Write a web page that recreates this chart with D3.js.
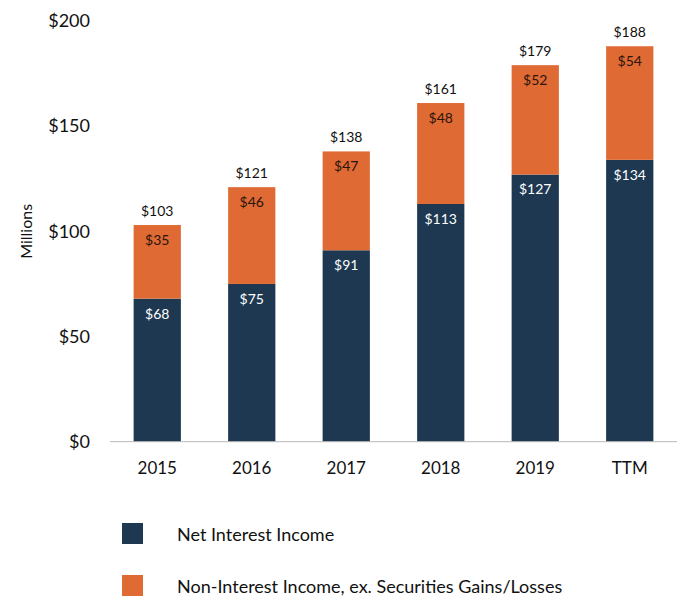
<!DOCTYPE html>
<html>
<head>
<meta charset="utf-8">
<script src="https://cdn.jsdelivr.net/npm/d3@7"></script>
<style>
  html, body { margin: 0; padding: 0; background: #fff; }
  svg { display: block; font-family: Lato, "Open Sans", sans-serif; }
</style>
</head>
<body>
<svg id="chart" width="681" height="601"></svg>
<script>
// Revenue by year, stacked: net interest income + non-interest income
const categories = ["2015", "2016", "2017", "2018", "2019", "TTM"];
const netInterest = [68, 75, 91, 113, 127, 134];
const nonInterest = [35, 46, 47, 48, 52, 54];
const totals = [103, 121, 138, 161, 179, 188];
const yTicks = [0, 50, 100, 150, 200];
const seriesNames = ["Net Interest Income", "Non-Interest Income, ex. Securities Gains/Losses"];

const navy = "#1e3852";
const orange = "#e06a33";

const svg = d3.select("#chart");

const x = d3.scaleBand()
  .domain(categories)
  .range([110, 677])
  .paddingInner(0.5)
  .paddingOuter(0.25);

const y = d3.scaleLinear().domain([0, 200]).range([441.7, 21]);

const rows = categories.map((c, i) => ({
  cat: c, net: netInterest[i], non: nonInterest[i], total: totals[i]
}));

// y-axis tick labels (no axis line)
svg.append("g")
  .selectAll("text")
  .data(yTicks)
  .join("text")
  .attr("x", 90)
  .attr("y", d => y(d))
  .attr("dy", "0.35em")
  .attr("text-anchor", "end")
  .attr("font-size", 18)
  .attr("fill", "#111")
  .text(d => "$" + d);

// axis title
svg.append("text")
  .attr("transform", "translate(26," + y(100) + ") rotate(-90)")
  .attr("dy", "0.35em")
  .attr("text-anchor", "middle")
  .attr("font-size", 16)
  .attr("fill", "#111")
  .text("Millions");

// bars
const bars = svg.append("g");
bars.selectAll("rect.net")
  .data(rows)
  .join("rect")
  .attr("class", "net")
  .attr("x", d => x(d.cat))
  .attr("width", x.bandwidth())
  .attr("y", d => y(d.net))
  .attr("height", d => y(0) - y(d.net))
  .attr("fill", navy);

bars.selectAll("rect.non")
  .data(rows)
  .join("rect")
  .attr("class", "non")
  .attr("x", d => x(d.cat))
  .attr("width", x.bandwidth())
  .attr("y", d => y(d.net + d.non))
  .attr("height", d => y(d.net) - y(d.net + d.non))
  .attr("fill", orange);

// baseline
svg.append("line")
  .attr("x1", 110).attr("x2", 677)
  .attr("y1", y(0)).attr("y2", y(0))
  .attr("stroke", "#b8b8b8")
  .attr("stroke-width", 1);

// x-axis labels
const xAxis = svg.append("g")
  .attr("transform", "translate(0," + y(0) + ")")
  .call(d3.axisBottom(x).tickSize(0).tickPadding(20));
xAxis.select(".domain").remove();
xAxis.selectAll("text")
  .attr("font-family", "Lato, 'Open Sans', sans-serif")
  .attr("font-size", 17)
  .attr("fill", "#111");

// value labels
const labels = svg.append("g")
  .attr("text-anchor", "middle")
  .attr("font-size", 14);

labels.selectAll("text.net")
  .data(rows)
  .join("text")
  .attr("class", "net")
  .attr("x", d => x(d.cat) + x.bandwidth() / 2)
  .attr("y", d => y(d.net) + 15)
  .attr("dy", "0.35em")
  .attr("fill", "#fff")
  .text(d => "$" + d.net);

labels.selectAll("text.non")
  .data(rows)
  .join("text")
  .attr("class", "non")
  .attr("x", d => x(d.cat) + x.bandwidth() / 2)
  .attr("y", d => y(d.net + d.non) + 15)
  .attr("dy", "0.35em")
  .attr("fill", "#2a140c")
  .text(d => "$" + d.non);

labels.selectAll("text.total")
  .data(rows)
  .join("text")
  .attr("class", "total")
  .attr("x", d => x(d.cat) + x.bandwidth() / 2)
  .attr("y", d => y(d.total) - 14)
  .attr("dy", "0.35em")
  .attr("fill", "#111")
  .text(d => "$" + d.total);

// legend
const legend = svg.append("g");
const legendColors = [navy, orange];
const legendY = [534, 586];
seriesNames.forEach((name, i) => {
  legend.append("rect")
    .attr("x", 122).attr("y", legendY[i] - 11)
    .attr("width", 21).attr("height", 21)
    .attr("fill", legendColors[i]);
  legend.append("text")
    .attr("x", 177).attr("y", legendY[i] + 1)
    .attr("dy", "0.35em")
    .attr("font-size", 18)
    .attr("fill", "#111")
    .text(name);
});
</script>
</body>
</html>
